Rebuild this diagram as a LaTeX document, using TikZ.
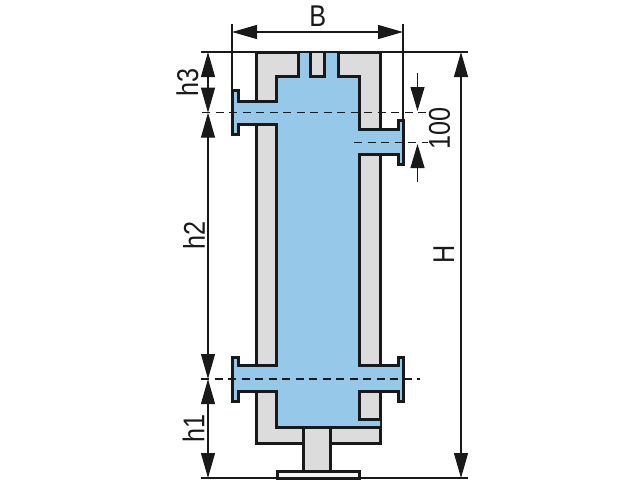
\documentclass[tikz,border=0pt]{standalone}
\usepackage{fontspec}
\setmainfont{Liberation Sans}
\usetikzlibrary{arrows.meta}
\definecolor{wgray}{HTML}{DCDCDC}
\definecolor{wblue}{HTML}{96C8EA}
\tikzset{
  x=1pt,y=-1pt,
  wall/.style={line width=3pt,draw=black!90,line join=miter},
  thin line/.style={line width=1.1pt,draw=black!90},
  dim/.style={thin line,{Triangle[length=25pt,width=14pt]}-{Triangle[length=25pt,width=14pt]}},
  dimend/.style={thin line,-{Triangle[length=24pt,width=14pt]}},
  axis/.style={line width=1.2pt,draw=black!90,dash pattern=on 8pt off 5.5pt},
  lab/.style={font=\fontsize{30}{30}\selectfont,inner sep=0pt,text=black!90,xscale=.84},
  rlab/.style={font=\fontsize{30}{30}\selectfont,inner sep=0pt,text=black!90,rotate=90,xscale=.84}
}
\begin{document}
\begin{tikzpicture}
\useasboundingbox (0,0) rectangle (640,480);
% reference points
\coordinate (tL) at (201,52); \coordinate (tR) at (468,52);
\coordinate (bL) at (201,478); \coordinate (bR) at (468,478);
\coordinate (d0) at (208,52); \coordinate (d1) at (208,112.7); \coordinate (d2) at (208,379); \coordinate (d3) at (208,478);
\coordinate (H0) at (461,52); \coordinate (H1) at (461,478);
\coordinate (B0) at (232,32); \coordinate (B1) at (403,32);
\coordinate (e0a) at (232,24); \coordinate (e0b) at (232,89);
\coordinate (e1a) at (403,24); \coordinate (e1b) at (403,119);
\coordinate (a1a) at (202,112.7); \coordinate (a1b) at (427,112.7);
\coordinate (a2a) at (354,142.7); \coordinate (a2b) at (428,142.7);
\coordinate (a3a) at (201,379); \coordinate (a3b) at (420,379);
\coordinate (c0) at (417.5,73); \coordinate (c1) at (417.5,111); \coordinate (c2) at (417.5,182); \coordinate (c3) at (417.5,144);
% housing
\fill[wgray] (256.3,52.2) rectangle (380.2,443.9);
\draw[wall] (256.3,52.2) rectangle (380.2,443.9);
% stem and base
\draw[wall,fill=wgray] (303,427.5) rectangle (330,471.8);
\draw[wall,fill=wgray!30] (277,471.8) rectangle (359.5,478);
% water body
\fill[wblue] (298,52)--(298,76.5)--(276.7,76.5)--(276.7,101.3)--(238.7,101.3)--(238.7,90.5)--(232.8,90.5)--(232.8,134.5)--(238.7,134.5)--(238.7,124.7)--(276.7,124.7)--(276.7,365.3)--(238.7,365.3)--(238.7,357)--(232.8,357)--(232.8,401)--(238.7,401)--(238.7,391)--(276.7,391)--(276.7,427.5)--(380,427.5)--(380,419.7)--(359,419.7)--(359,391)--(398,391)--(398,401)--(403,401)--(403,357)--(398,357)--(398,365.3)--(359,365.3)--(359,154)--(398,154)--(398,164.7)--(403,164.7)--(403,120.5)--(398,120.5)--(398,129.5)--(359,129.5)--(359,76.5)--(338,76.5)--(338,52)--(324.5,52)--(324.5,76.5)--(310.5,76.5)--(310.5,52)--cycle;
% water outline
\draw[wall] (298,52)--(298,76.5)--(276.7,76.5)--(276.7,101.3)--(238.7,101.3)--(238.7,90.5)--(232.8,90.5)--(232.8,134.5)--(238.7,134.5)--(238.7,124.7)--(276.7,124.7)--(276.7,365.3)--(238.7,365.3)--(238.7,357)--(232.8,357)--(232.8,401)--(238.7,401)--(238.7,391)--(276.7,391)--(276.7,427.5)--(381,427.5);
\draw[wall] (381,419.7)--(359,419.7)--(359,391)--(398,391)--(398,401)--(403,401)--(403,357)--(398,357)--(398,365.3)--(359,365.3)--(359,154)--(398,154)--(398,164.7)--(403,164.7)--(403,120.5)--(398,120.5)--(398,129.5)--(359,129.5)--(359,76.5)--(338,76.5)--(338,52);
\draw[wall,fill=wgray] (310.5,52)--(310.5,76.5)--(324.5,76.5)--(324.5,52);
% reference lines
\draw[thin line] (tL)--(tR);
\draw[thin line] (bL)--(bR);
\draw[thin line] (e0a)--(e0b);
\draw[thin line] (e1a)--(e1b);
\draw[axis] (a1a)--(a1b);
\draw[axis] (a2a)--(a2b);
\draw[axis] (a3a)--(a3b);
% dimensions
\draw[dim] (B0)--(B1);
\draw[dim] (d0)--(d1);
\draw[dim] (d1)--(d2);
\draw[dim] (d2)--(d3);
\draw[dim] (H0)--(H1);
\draw[dimend] (c0)--(c1);
\draw[dimend] (c2)--(c3);
% labels
\node[lab] (lB) at (317.7,16) {B};
\node[rlab] (lh3) at (187.5,82.5) {h3};
\node[rlab] (lh2) at (194,235) {h2};
\node[rlab] (lh1) at (193.5,428.5) {h1};
\node[rlab] (lH) at (443.7,254) {H};
\node[rlab] (l100) at (439.5,128) {100};
\end{tikzpicture}
\end{document}
